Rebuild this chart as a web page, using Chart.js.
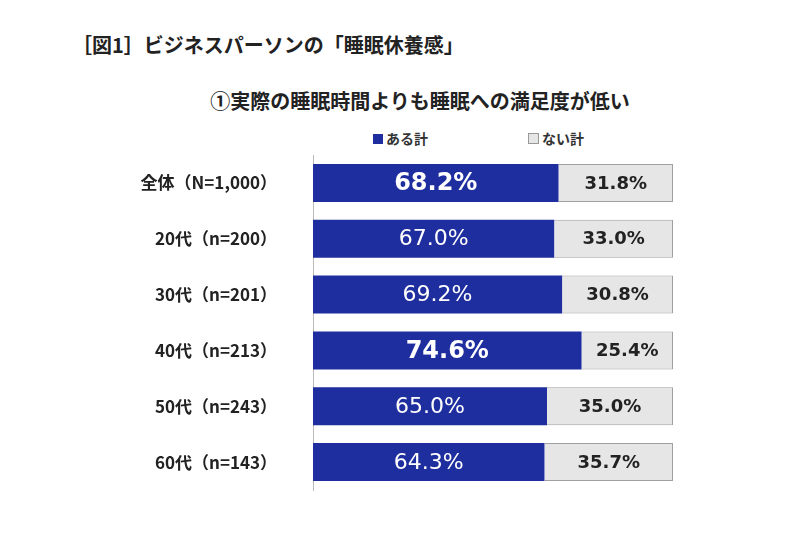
<!DOCTYPE html>
<html><head><meta charset="utf-8">
<script src="https://cdn.jsdelivr.net/npm/chart.js@4"></script>
<style>
body{margin:0;background:#fff;font-family:"Noto Sans CJK JP",sans-serif;}
#wrap{position:relative;width:800px;height:533px;}
#t1{position:absolute;left:72px;top:30px;font-size:20px;font-weight:bold;color:#222;}
#t2{position:absolute;left:0;width:800px;text-align:center;top:86px;font-size:20px;font-weight:bold;color:#222;padding-left:40px;box-sizing:border-box;}
.lg{position:absolute;top:128px;font-size:14px;color:#333;font-weight:bold;}
.sw{display:inline-block;width:10px;height:10px;margin-right:3px;vertical-align:0px;}
canvas{position:absolute;left:0;top:0;}
</style></head><body>
<div id="wrap">
<div id="t1">［図1］ビジネスパーソンの「睡眠休養感」</div>
<div id="t2">①実際の睡眠時間よりも睡眠への満足度が低い</div>
<div class="lg" style="left:373px"><span class="sw" style="background:#1f2e9e"></span>ある計</div>
<div class="lg" style="left:528px"><span class="sw" style="background:#e6e6e6;border:1px solid #999;width:9px;height:9px"></span>ない計</div>
<canvas id="c" width="800" height="533"></canvas>
</div>
<script>
const categories = ["全体（N=1,000）","20代（n=200）","30代（n=201）","40代（n=213）","50代（n=243）","60代（n=143）"];
const aruValues = [68.2, 67.0, 69.2, 74.6, 65.0, 64.3];
const naiValues = [31.8, 33.0, 30.8, 25.4, 35.0, 35.7];
const emphasis = [true, false, false, true, false, false];

const labelPlugin = {
  id: "barLabels",
  afterDatasetsDraw(chart) {
    const ctx = chart.ctx;
    ctx.save();
    ctx.textAlign = "center";
    ctx.textBaseline = "middle";
    chart.data.datasets.forEach((ds, di) => {
      chart.getDatasetMeta(di).data.forEach((bar, i) => {
        const x = (bar.x + bar.base) / 2;
        if (di === 0) {
          ctx.fillStyle = "#fff";
          ctx.font = (emphasis[i] ? "bold 24px" : "22px") + " 'DejaVu Sans', sans-serif";
        } else {
          ctx.fillStyle = "#222";
          ctx.font = "bold 18px 'DejaVu Sans', sans-serif";
        }
        ctx.fillText(ds.data[i].toFixed(1) + "%", x, bar.y + 1);
      });
    });
    ctx.restore();
  }
};

new Chart(document.getElementById("c"), {
  type: "bar",
  data: {
    labels: categories,
    datasets: [
      { label: "ある計", data: aruValues, backgroundColor: "#1f2e9e", borderWidth: 0 },
      { label: "ない計", data: naiValues, backgroundColor: "#e6e6e6", borderColor: "#a0a0a0", borderWidth: 1 }
    ]
  },
  options: {
    indexAxis: "y",
    responsive: false,
    animation: false,
    barPercentage: 0.68,
    categoryPercentage: 1,
    layout: { padding: { top: 155, bottom: 43, right: 127, left: 0 } },
    plugins: { legend: { display: false }, tooltip: { enabled: false } },
    scales: {
      x: { stacked: true, min: 0, max: 100, display: false },
      y: {
        stacked: true,
        afterFit(s) { s.width = 313; },
        grid: { display: false, drawTicks: true },
        border: { display: true, color: "#bbb" },
        ticks: { color: "#222", font: { size: 17, weight: "bold", family: "'Noto Sans CJK JP', sans-serif" }, padding: 28 }
      }
    }
  },
  plugins: [labelPlugin]
});
</script>
</body></html>
